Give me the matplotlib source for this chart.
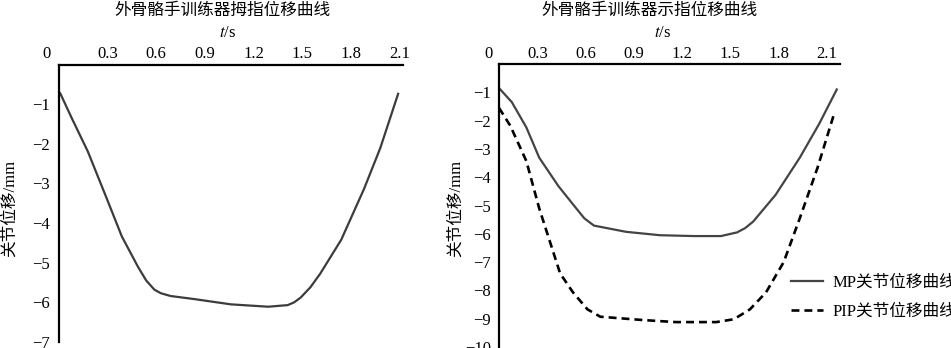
import matplotlib
matplotlib.use("Agg")
from matplotlib import pyplot as plt
from matplotlib.transforms import ScaledTranslation

plt.rcParams['font.family'] = ['Liberation Serif', 'Noto Sans CJK SC']
plt.rcParams['mathtext.fontset'] = 'stix'

# thumb displacement (left chart)
thumbT = [0.0, 0.01, 0.08, 0.18, 0.29, 0.39, 0.49, 0.54, 0.59, 0.63, 0.69, 0.84, 1.06, 1.29,
          1.41, 1.45, 1.49, 1.55, 1.61, 1.74, 1.88, 1.98, 2.09]
thumbY = [-0.72, -0.72, -1.34, -2.19, -3.31, -4.34, -5.11, -5.45, -5.68, -5.77, -5.84, -5.92,
          -6.05, -6.11, -6.07, -6.0, -5.88, -5.62, -5.28, -4.42, -3.14, -2.11, -0.74]

# index finger MP joint (right chart)
mpT = [0.0, 0.08, 0.17, 0.25, 0.37, 0.48, 0.53, 0.59, 0.79, 1.0, 1.21, 1.38, 1.48,
       1.53, 1.58, 1.72, 1.87, 1.99, 2.1]
mpY = [-0.85, -1.35, -2.24, -3.31, -4.32, -5.1, -5.45, -5.71, -5.93, -6.05, -6.08, -6.08, -5.95,
       -5.8, -5.57, -4.62, -3.31, -2.12, -0.9]

# index finger PIP joint (right chart)
pipT = [0.0, 0.07, 0.17, 0.25, 0.38, 0.46, 0.55, 0.63, 0.9, 1.1, 1.35, 1.46,
        1.56, 1.66, 1.77, 1.87, 1.98, 2.08]
pipY = [-1.55, -2.18, -3.43, -5.1, -7.4, -8.07, -8.67, -8.93, -9.05, -9.12, -9.12, -9.02,
        -8.67, -8.07, -7.0, -5.45, -3.67, -1.82]

xTicks = [0, 0.3, 0.6, 0.9, 1.2, 1.5, 1.8, 2.1]
xTickLabels = ['0', '0.3', '0.6', '0.9', '1.2', '1.5', '1.8', '2.1']

titles = ['外骨骼手训练器拇指位移曲线', '外骨骼手训练器示指位移曲线']
yLabel = '关节位移/mm'
legendLabels = ['MP关节位移曲线', 'PIP关节位移曲线']

W, H = 951, 348
fig = plt.figure(figsize=(W / 100, H / 100), dpi=100)


def makeAxes(left, right, top, bottom):
    return fig.add_axes([left / W, 1 - bottom / H, (right - left) / W, (bottom - top) / H])


def styleAxes(ax, ymin, xShifts):
    ax.set_xlim(0, 2.12)
    ax.set_ylim(ymin, 0)
    ax.spines['right'].set_visible(False)
    ax.spines['bottom'].set_visible(False)
    for s in ['top', 'left']:
        ax.spines[s].set_linewidth(1.6)
        ax.spines[s].set_color('black')
    ax.xaxis.tick_top()
    ax.set_xticks(xTicks)
    ax.set_xticklabels(xTickLabels)
    yt = list(range(-1, ymin - 1, -1))
    ax.set_yticks(yt)
    ax.set_yticklabels(['\u2212%d' % abs(v) for v in yt])
    ax.tick_params(axis='x', length=0, pad=1.5, labelsize=12)
    ax.tick_params(axis='y', length=0, pad=6, labelsize=12)
    for lab, dx in zip(ax.get_xticklabels(), xShifts):
        lab.set_transform(lab.get_transform() + ScaledTranslation(dx / 100, 0, fig.dpi_scale_trans))


ax1 = makeAxes(58.5, 403, 64.5, 342)
ax1.plot(thumbT, thumbY, color='#3c3c3c', lw=1.6)
styleAxes(ax1, -7, [-12, 0, 0, 0, 0, 0, 0, 0])

ax2 = makeAxes(499, 840, 64, 347)
ax2.plot(mpT, mpY, color='#444444', lw=1.6, label=legendLabels[0])
ax2.plot(pipT, pipY, color='black', lw=1.9, dashes=(3.0, 1.9), label=legendLabels[1])
styleAxes(ax2, -10, [-10] * 8)

fig.text(222 / W, 1 - 10 / H, titles[0], ha='center', va='center', fontsize=12,
         family=['Noto Sans CJK SC'])
fig.text(649 / W, 1 - 10 / H, titles[1], ha='center', va='center', fontsize=12,
         family=['Noto Sans CJK SC'])
fig.text(228 / W, 1 - 33 / H, r'$t$/s', ha='center', va='center', fontsize=12)
fig.text(663 / W, 1 - 33 / H, r'$t$/s', ha='center', va='center', fontsize=12)
fig.text(10 / W, 1 - 208 / H, yLabel, rotation=90, ha='center', va='center', fontsize=12)
fig.text(456 / W, 1 - 208 / H, yLabel, rotation=90, ha='center', va='center', fontsize=12)

ax2.legend(loc='center left', bbox_to_anchor=(783 / W, 1 - 297 / H),
           bbox_transform=fig.transFigure, frameon=False, fontsize=12,
           handlelength=1.9, handletextpad=0.6, labelspacing=0.8, borderpad=0)

fig.savefig('out.png', dpi=100)
